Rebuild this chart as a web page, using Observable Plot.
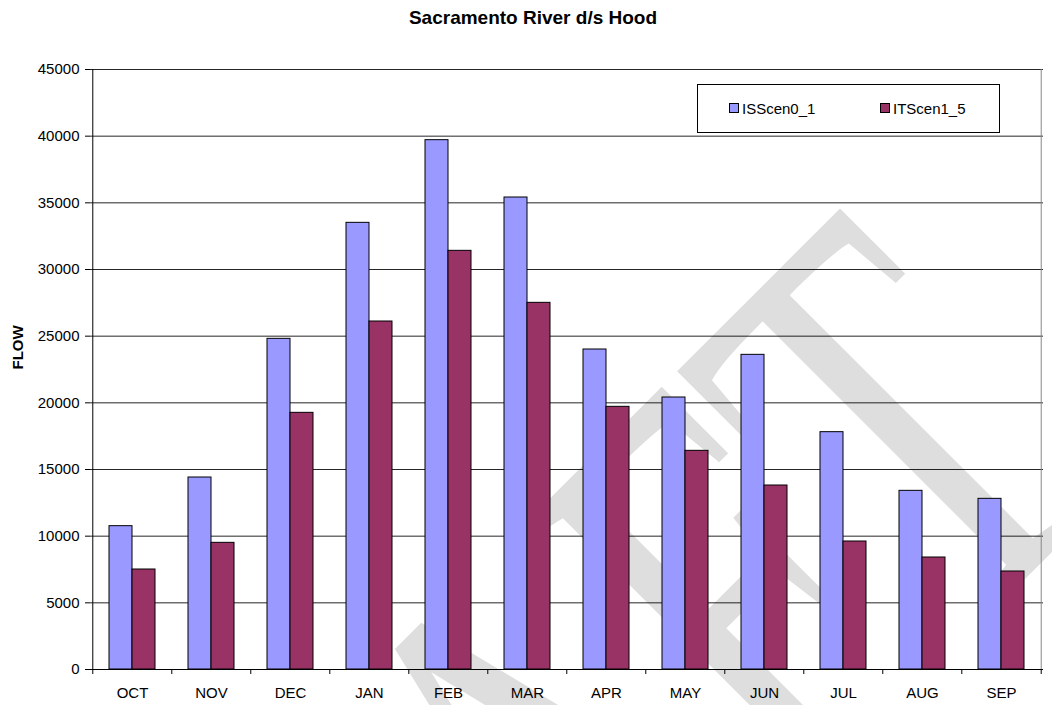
<!DOCTYPE html>
<html>
<head>
<meta charset="utf-8">
<script src="https://cdn.jsdelivr.net/npm/d3@7"></script>
<script src="https://cdn.jsdelivr.net/npm/@observablehq/plot@0.6"></script>
<style>
  body { margin: 0; background: #fff; font-family: "Liberation Sans", Arial, sans-serif; }
  #wrap { position: relative; width: 1052px; height: 705px; }
  #legend { position: absolute; left: 697px; top: 84px; width: 301px; height: 47px;
            border: 1px solid #000; background: #fff; font-size: 15px; color: #000; }
  .item { position: absolute; top: 13px; height: 20px; display: flex; align-items: center; white-space: nowrap; }
  .sw { width: 8px; height: 8px; border: 1px solid #000; margin-right: 3px; }
</style>
</head>
<body>
<div id="wrap">
  <div id="chart"></div>
  <div id="legend"></div>
</div>
<script>
const title = "Sacramento River d/s Hood";
const yLabel = "FLOW";
const months = ["OCT","NOV","DEC","JAN","FEB","MAR","APR","MAY","JUN","JUL","AUG","SEP"];
const seriesNames = ["ISScen0_1", "ITScen1_5"];
const seriesColors = ["#9999ff", "#993366"];
const isScen0_1 = [10750, 14400, 24800, 33500, 39700, 35400, 24000, 20400, 23600, 17800, 13400, 12800];
const itScen1_5 = [7500, 9500, 19250, 26100, 31400, 27500, 19700, 16400, 13800, 9600, 8400, 7350];
const yTicks = [0, 5000, 10000, 15000, 20000, 25000, 30000, 35000, 40000, 45000];
const watermark = "DRAFT";

const W = 1052, H = 705;
const mL = 90, mR = 9, mT = 69, mB = 36;
const step = (W - mL - mR) / months.length;

const rows = months.map((m, i) => ({month: m, a: isScen0_1[i], b: itScen1_5[i]}));

const chart = Plot.plot({
  width: W,
  height: H,
  marginLeft: mL,
  marginRight: mR,
  marginTop: mT,
  marginBottom: mB,
  style: {fontFamily: "'Liberation Sans', Arial, sans-serif", fontSize: "15px", color: "#000", background: "transparent"},
  x: {type: "band", domain: months, paddingInner: 0.42, paddingOuter: 0.21, label: null},
  y: {domain: [0, 45000], label: null},
  marks: [
    Plot.text([watermark], {frameAnchor: "top-left", dx: 1032, dy: 412, text: d => d,
      fontSize: 400, fontFamily: "'Liberation Serif', 'Times New Roman', serif",
      fill: "#dedede", rotate: -45, textAnchor: "end", lineAnchor: "bottom"}),
    Plot.gridY(yTicks, {stroke: "#000", strokeOpacity: 0.85}),
    Plot.barY(rows, {x: "month", y: "a", fill: seriesColors[0], stroke: "#000", strokeWidth: 1, insetRight: 23}),
    Plot.barY(rows, {x: "month", y: "b", fill: seriesColors[1], stroke: "#000", strokeWidth: 1, insetLeft: 23}),
    // right border of plot area
    Plot.ruleX([months[months.length - 1]], {dx: step / 2, y1: 0, y2: 45000, stroke: "#888"}),
    // category boundary ticks
    Plot.ruleX(months, {x: d => d, dx: -step / 2, y1: -375, y2: 0, stroke: "#000"}),
    Plot.ruleX([months[months.length - 1]], {dx: step / 2, y1: -375, y2: 0, stroke: "#000"}),
    // left axis line
    Plot.ruleX([months[0]], {dx: -step / 2, y1: 0, y2: 45000, stroke: "#000"}),
    Plot.ruleY([0], {stroke: "#000"}),
    Plot.axisY({ticks: yTicks, tickSize: 5, tickPadding: 6, tickFormat: d => String(d), fontSize: 15, label: null}),
    Plot.axisX({tickSize: 0, tickPadding: 18, fontSize: 15, label: null}),
    Plot.text([title], {frameAnchor: "top", dx: -34, dy: -46, text: d => d, fontSize: 19, fontWeight: "bold", lineAnchor: "bottom", fill: "#000"}),
    Plot.text([yLabel], {frameAnchor: "left", dx: -72, text: d => d, fontSize: 15, fontWeight: "bold", rotate: -90, fill: "#000"})
  ]
});
// condense the watermark lettering (tall, narrow letters as in the reference)
chart.querySelectorAll("text").forEach(t => {
  if (t.textContent === watermark) {
    const tr = t.getAttribute("transform") || "";
    t.setAttribute("transform", tr + " scale(1,1.5)");
  }
});
document.getElementById("chart").appendChild(chart);

const legend = document.getElementById("legend");
const lefts = [31, 182];
seriesNames.forEach((name, i) => {
  const item = document.createElement("div");
  item.className = "item";
  item.style.left = lefts[i] + "px";
  const sw = document.createElement("span");
  sw.className = "sw";
  sw.style.background = seriesColors[i];
  const t = document.createElement("span");
  t.textContent = name;
  item.appendChild(sw);
  item.appendChild(t);
  legend.appendChild(item);
});
</script>
</body>
</html>
